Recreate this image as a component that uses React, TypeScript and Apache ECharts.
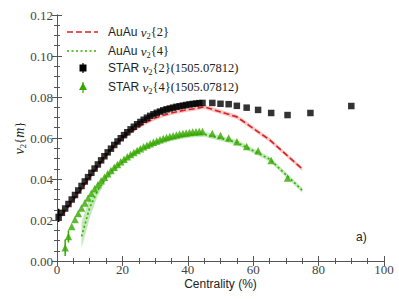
import React, { useEffect, useRef } from "react";
import * as echarts from "echarts";

// STAR v2{2} (1505.07812)
const starV22X = [0.5,1.5,2.5,3.5,4.5,5.5,6.5,7.5,8.5,9.5,10.5,11.5,12.5,13.5,14.5,15.5,16.5,17.5,18.5,19.5,20.5,21.5,22.5,23.5,24.5,25.5,26.5,27.5,28.5,29.5,30.5,31.5,32.5,33.5,34.5,35.5,36.5,37.5,38.5,39.5,40.5,41.5,42.5,43.5,44.5,47.5,50,52.5,55,58,61.5,65.5,70.5,77.5,90];
const starV22Y = [0.0215,0.0235,0.0256,0.0278,0.0300,0.0322,0.0344,0.0366,0.0388,0.0409,0.0430,0.0451,0.0471,0.0491,0.0511,0.0530,0.0548,0.0566,0.0583,0.0599,0.0614,0.0628,0.0642,0.0655,0.0667,0.0678,0.0689,0.0699,0.0708,0.0716,0.0723,0.0729,0.0735,0.0740,0.0744,0.0748,0.0752,0.0755,0.0758,0.0761,0.0764,0.0766,0.0768,0.0770,0.0771,0.0771,0.0767,0.0765,0.0757,0.0748,0.0737,0.0722,0.0712,0.0722,0.0756];

// STAR v2{4} (1505.07812)
const starV24X = [2.5,3.5,4.5,5.5,6.5,7.5,8.5,9.5,10.5,11.5,12.5,13.5,14.5,15.5,16.5,17.5,18.5,19.5,20.5,21.5,22.5,23.5,24.5,25.5,26.5,27.5,28.5,29.5,30.5,31.5,32.5,33.5,34.5,35.5,36.5,37.5,38.5,39.5,40.5,41.5,42.5,43.5,44.5,47.5,50,52.5,55,58,61.5,65.5,70.5];
const starV24Y = [0.0065,0.0120,0.0168,0.0203,0.0232,0.0258,0.0283,0.0307,0.0330,0.0352,0.0372,0.0391,0.0409,0.0426,0.0442,0.0457,0.0471,0.0484,0.0496,0.0508,0.0519,0.0529,0.0539,0.0548,0.0557,0.0565,0.0572,0.0579,0.0585,0.0591,0.0597,0.0602,0.0607,0.0611,0.0615,0.0619,0.0622,0.0625,0.0627,0.0629,0.0631,0.0632,0.0632,0.0622,0.0612,0.0600,0.0582,0.0558,0.0538,0.0490,0.0405];
const starV24ErrX = [2.5, 3.5];
const starV24ErrLow = [0.0025, 0.0090];
const starV24ErrHigh = [0.0105, 0.0150];
const starV22ErrX = [0.5];
const starV22ErrLow = [0.0190];
const starV22ErrHigh = [0.0255];

// AuAu model v2{2}
const auV22X = [1.5,2.5,5,7.5,10,12.5,15,17.5,20,22.5,25,27.5,30,32.5,35,37.5,40,42.5,45,55,65,75];
const auV22Y = [0.0225,0.0245,0.0298,0.0352,0.0408,0.0462,0.0513,0.0560,0.0598,0.0628,0.0655,0.0678,0.0697,0.0711,0.0722,0.0731,0.0738,0.0744,0.0752,0.0703,0.0591,0.0449];
const auV22Err = [0.001,0.001,0.001,0.001,0.001,0.001,0.001,0.001,0.001,0.001,0.001,0.001,0.001,0.001,0.001,0.001,0.001,0.001,0.001,0.001,0.001,0.001];

// AuAu model v2{4}
const auV24X = [7.5,10,12.5,15,17.5,20,22.5,25,27.5,30,32.5,35,37.5,40,42.5,45,55,65,75];
const auV24Y = [0.012,0.026,0.0345,0.0405,0.0448,0.0483,0.0512,0.0538,0.0558,0.0574,0.0588,0.0598,0.0606,0.0612,0.0616,0.0618,0.0578,0.0497,0.0345];
const auV24Low = [0.0062,0.021,0.032,0.0392,0.0436,0.0471,0.0500,0.0526,0.0546,0.0562,0.0576,0.0586,0.0594,0.0600,0.0604,0.0606,0.0566,0.0485,0.0333];
const auV24High = [0.019,0.031,0.037,0.0418,0.0460,0.0495,0.0524,0.0550,0.0570,0.0586,0.0600,0.0610,0.0618,0.0624,0.0628,0.0630,0.0590,0.0509,0.0357];

const xTicks = { min: 0, max: 100, interval: 20 };
const yTicks = { min: 0, max: 0.12, interval: 0.02 };

const SERIF = "Liberation Serif";
const SANS = "Liberation Sans";
const RED = "#dd1f1f";
const GREEN = "#36a800";
const GREEN_LINE = "#2fb000";
const FRAME = "#555";

const zip = (xs: number[], ys: number[]) => xs.map((x, i) => [x, ys[i]]);

const bandSeries = (xs: number[], lo: number[], hi: number[], color: string) => ({
  type: "custom",
  coordinateSystem: "cartesian2d",
  silent: true,
  z: 1,
  data: [[xs[0], lo[0]]],
  renderItem: (_p: any, api: any) => {
    const pts: number[][] = [];
    for (let i = 0; i < xs.length; i++) pts.push(api.coord([xs[i], hi[i]]));
    for (let i = xs.length - 1; i >= 0; i--) pts.push(api.coord([xs[i], lo[i]]));
    return { type: "polygon", shape: { points: pts }, style: { fill: color } };
  },
});

const errorSeries = (xs: number[], lo: number[], hi: number[], color: string) => ({
  type: "custom",
  coordinateSystem: "cartesian2d",
  z: 4,
  data: xs.map((x, i) => [x, lo[i], hi[i]]),
  renderItem: (_p: any, api: any) => {
    const a = api.coord([api.value(0), api.value(1)]);
    const b = api.coord([api.value(0), api.value(2)]);
    return { type: "line", shape: { x1: a[0], y1: a[1], x2: b[0], y2: b[1] }, style: { stroke: color, lineWidth: 1.5 } };
  },
});

const richStyles = {
  s: { fontFamily: SANS, fontSize: 12, lineHeight: 16, verticalAlign: "middle" },
  v: { fontFamily: SERIF, fontStyle: "italic", fontSize: 13, lineHeight: 16, verticalAlign: "middle" },
  b: { fontFamily: SERIF, fontSize: 8.5, lineHeight: 9, verticalAlign: "bottom" },
};

const axisCommon = (t: any) => ({
  type: "value",
  min: t.min,
  max: t.max,
  interval: t.interval,
  axisLine: { show: true, lineStyle: { color: FRAME, width: 1 } },
  axisTick: { show: true, inside: true, length: 5, lineStyle: { color: FRAME } },
  minorTick: { show: true, splitNumber: 4, length: 3, lineStyle: { color: FRAME } },
  splitLine: { show: false },
  minorSplitLine: { show: false },
});

export default function App() {
  const ref = useRef<HTMLDivElement>(null);
  useEffect(() => {
    if (!ref.current) return;
    const chart = echarts.init(ref.current, undefined, { renderer: "svg" });
    const legendRows = [32, 51, 68, 87];
    chart.setOption({
      animation: false,
      backgroundColor: "#fff",
      grid: { left: 57, right: 15, top: 15, bottom: 38, containLabel: false, outerBoundsMode: "none" },
      xAxis: [
        {
          ...axisCommon(xTicks),
          position: "bottom",
          axisLabel: { fontFamily: SERIF, fontSize: 13, color: "#444", margin: 2 },
          name: "Centrality (%)",
          nameLocation: "middle",
          nameGap: 17,
          nameMoveOverlap: false,
          nameTextStyle: { fontFamily: SANS, fontSize: 12, color: "#222" },
        },
        { ...axisCommon(xTicks), position: "top", axisLabel: { show: false } },
      ],
      yAxis: [
        {
          ...axisCommon(yTicks),
          position: "left",
          axisLabel: { fontFamily: SERIF, fontSize: 13, color: "#444", margin: 4, formatter: (v: number) => v.toFixed(2) },
          name: "{v|v}{b|2}{{v|m}}",
          nameLocation: "middle",
          nameRotate: 90,
          nameGap: 30,
          nameMoveOverlap: false,
          nameTextStyle: { fontFamily: SERIF, fontSize: 13, color: "#222", rich: { ...richStyles, v: { ...richStyles.v, fontSize: 14 } } },
        },
        { ...axisCommon(yTicks), position: "right", axisLabel: { show: false } },
      ],
      series: [
        bandSeries(auV22X, auV22Y.map((y, i) => y - auV22Err[i]), auV22Y.map((y, i) => y + auV22Err[i]), "rgba(240,140,140,0.5)"),
        bandSeries(auV24X, auV24Low, auV24High, "rgba(140,210,120,0.5)"),
        {
          type: "line",
          data: zip(auV22X, auV22Y),
          showSymbol: false,
          symbol: "none",
          z: 3,
          lineStyle: { color: RED, width: 1.6, type: [6, 3] },
        },
        {
          type: "line",
          data: zip(auV24X, auV24Y),
          showSymbol: false,
          symbol: "none",
          z: 3,
          lineStyle: { color: GREEN_LINE, width: 1.6, type: [2, 2.5] },
        },
        errorSeries(starV22ErrX, starV22ErrLow, starV22ErrHigh, "#000"),
        {
          type: "scatter",
          data: zip(starV22X, starV22Y),
          symbol: "rect",
          symbolSize: 6.5,
          z: 4,
          itemStyle: { color: "#000" },
        },
        errorSeries(starV24ErrX, starV24ErrLow, starV24ErrHigh, GREEN),
        {
          type: "scatter",
          data: zip(starV24X, starV24Y),
          symbol: "triangle",
          symbolSize: 7.5,
          z: 4,
          itemStyle: { color: GREEN },
        },
      ],
      graphic: [
        { type: "line", shape: { x1: 67, y1: legendRows[0], x2: 98, y2: legendRows[0] }, style: { stroke: RED, lineWidth: 1.6, lineDash: [6, 3] } },
        { type: "line", shape: { x1: 67, y1: legendRows[1], x2: 98, y2: legendRows[1] }, style: { stroke: GREEN_LINE, lineWidth: 1.6, lineDash: [2, 2.5] } },
        { type: "line", shape: { x1: 83, y1: legendRows[2] - 5, x2: 83, y2: legendRows[2] + 5 }, style: { stroke: "#000", lineWidth: 1.2 } },
        { type: "rect", shape: { x: 79.5, y: legendRows[2] - 3.5, width: 7, height: 7 }, style: { fill: "#000" } },
        { type: "line", shape: { x1: 83, y1: legendRows[3] - 5, x2: 83, y2: legendRows[3] + 6 }, style: { stroke: GREEN, lineWidth: 1.2 } },
        { type: "polygon", shape: { points: [[83, legendRows[3] - 4.5], [79, legendRows[3] + 3], [87, legendRows[3] + 3]] }, style: { fill: GREEN } },
        ...[
          "{s|AuAu }{v|v}{b|2}{2}",
          "{s|AuAu }{v|v}{b|2}{4}",
          "{s|STAR }{v|v}{b|2}{2}(1505.07812)",
          "{s|STAR }{v|v}{b|2}{4}(1505.07812)",
        ].map((t, i) => ({
          type: "text",
          x: 108,
          y: legendRows[i],
          style: {
            text: t,
            fontFamily: SERIF,
            fontSize: 12.5,
            fill: "#222",
            verticalAlign: "middle",
            rich: richStyles,
          },
        })),
        { type: "text", x: 356, y: 237, style: { text: "a)", fontFamily: SANS, fontSize: 12, fill: "#222", verticalAlign: "middle" } },
      ],
    });
    return () => chart.dispose();
  }, []);
  return <div ref={ref} style={{ position: "fixed", left: 0, top: 0, width: 399, height: 299 }} />;
}
